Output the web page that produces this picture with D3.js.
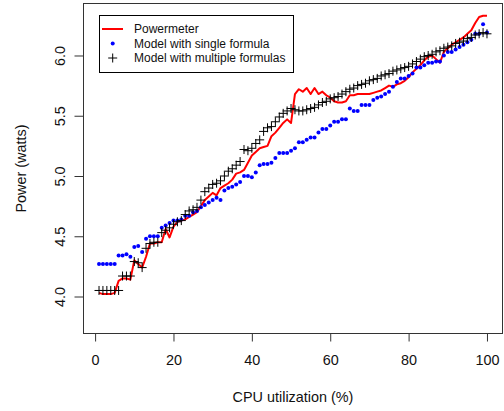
<!DOCTYPE html>
<html lang="en">
  <head>
    <meta charset="utf-8">
    <title>Power vs CPU utilization</title>
    <style>
      body { margin: 0; background: #fff; }
      text { font-family: "Liberation Sans", Arial, sans-serif; }
    </style>
  </head>
  <body>
    <svg id="chart"></svg>

    <script src="https://d3js.org/d3.v7.min.js"></script>

    <script type="text/javascript">
      // cpu utilization, 1..100
      const utilization = d3.range(1, 101);

      const powermeter = [
        4.03, 4.02, 4.02, 4.02, 4.03, 4.13, 4.15, 4.15, 4.14, 4.30,
        4.27, 4.24, 4.33, 4.44, 4.44, 4.45, 4.45, 4.56, 4.49, 4.58,
        4.62, 4.63, 4.64, 4.66, 4.68, 4.70, 4.75, 4.80, 4.83, 4.86,
        4.84, 4.90, 4.92, 4.94, 4.97, 5.02, 5.03, 5.05, 5.11, 5.17,
        5.20, 5.23, 5.24, 5.25, 5.33, 5.36, 5.40, 5.44, 5.47, 5.44,
        5.68, 5.72, 5.70, 5.73, 5.68, 5.73, 5.68, 5.70, 5.67, 5.65,
        5.62, 5.61, 5.61, 5.62, 5.67, 5.67, 5.68, 5.68, 5.68, 5.68,
        5.69, 5.70, 5.71, 5.73, 5.75, 5.74, 5.76, 5.77, 5.79, 5.82,
        5.86, 5.89, 5.92, 5.96, 5.99, 6.00, 5.97, 5.94, 6.03, 6.06,
        6.09, 6.11, 6.13, 6.15, 6.18, 6.21, 6.27, 6.32, 6.33, 6.33
      ];

      const singleFormula = [
        4.27, 4.27, 4.27, 4.27, 4.27, 4.34, 4.34, 4.35, 4.33, 4.41,
        4.42, 4.37, 4.48, 4.50, 4.50, 4.50, 4.57, 4.59, 4.61, 4.63,
        4.63, 4.64, 4.67, 4.67, 4.70, 4.71, 4.74, 4.76, 4.78, 4.80,
        4.82, 4.80, 4.88, 4.90, 4.91, 4.93, 4.95, 5.00, 5.00, 4.99,
        5.03, 5.09, 5.10, 5.10, 5.11, 5.15, 5.19, 5.19, 5.19, 5.21,
        5.23, 5.28, 5.28, 5.30, 5.32, 5.32, 5.36, 5.39, 5.39, 5.42,
        5.45, 5.45, 5.47, 5.47, 5.56, 5.54, 5.54, 5.59, 5.59, 5.59,
        5.63, 5.65, 5.66, 5.68, 5.70, 5.74, 5.78, 5.81, 5.81, 5.83,
        5.85, 5.90, 5.90, 5.92, 5.94, 5.94, 5.95, 5.95, 6.00, 6.03,
        6.03, 6.05, 6.07, 6.09, 6.11, 6.13, 6.18, 6.18, 6.26, 6.19
      ];

      const multipleFormulas = [
        4.05, 4.05, 4.05, 4.05, 4.05, 4.05, 4.17, 4.17, 4.17, 4.29,
        4.28, 4.24, 4.40, 4.44, 4.45, 4.45, 4.53, 4.55, 4.57, 4.60,
        4.62, 4.63, 4.68, 4.71, 4.72, 4.74, 4.80, 4.87, 4.90, 4.93,
        4.94, 4.96, 5.00, 5.04, 5.06, 5.09, 5.12, 5.22, 5.21, 5.23,
        5.27, 5.30, 5.37, 5.40, 5.41, 5.45, 5.49, 5.52, 5.54, 5.56,
        5.55, 5.54, 5.54, 5.55, 5.56, 5.57, 5.59, 5.61, 5.62, 5.64,
        5.65, 5.66, 5.68, 5.70, 5.72, 5.73, 5.75, 5.76, 5.77, 5.79,
        5.80, 5.81, 5.83, 5.84, 5.85, 5.87, 5.88, 5.89, 5.90, 5.91,
        5.93, 5.95, 5.97, 5.99, 6.00, 6.01, 6.03, 6.04, 6.06, 6.07,
        6.08, 6.10, 6.11, 6.12, 6.14, 6.15, 6.17, 6.18, 6.19, 6.18
      ];

      const xTicks = [0, 20, 40, 60, 80, 100];
      const yTicks = [4.0, 4.5, 5.0, 5.5, 6.0];
      const legendLabels = ['Powermeter', 'Model with single formula', 'Model with multiple formulas'];

      const width = 504, height = 411;
      const plotLeft = 83.5, plotRight = 502.5, plotTop = 3.5, plotBottom = 333.5;
      const labelSize = 14.4;

      const svg = d3.select('#chart')
        .attr('width', width)
        .attr('height', height);

      // R style: 4% padding on both ends of the data range
      const x = d3.scaleLinear().domain([-2.96, 103.96]).range([plotLeft, plotRight]);
      const y = d3.scaleLinear().domain([3.693, 6.4315]).range([plotBottom, plotTop]);

      // x axis
      const xAxis = svg.append('g')
        .attr('transform', `translate(0,${plotBottom})`)
        .call(d3.axisBottom(x).tickValues(xTicks).tickSize(8).tickPadding(13.5).tickFormat(d3.format('d')));
      xAxis.select('.domain').remove();
      xAxis.selectAll('line').attr('stroke', '#333');
      xAxis.selectAll('text').attr('font-size', labelSize).attr('fill', '#111')
        .style('font-family', '"Liberation Sans", Arial, sans-serif');

      // y axis, labels turned like R (las = 0)
      const yAxis = svg.append('g')
        .attr('transform', `translate(${plotLeft},0)`)
        .call(d3.axisLeft(y).tickValues(yTicks).tickSize(9).tickFormat(d3.format('.1f')));
      yAxis.select('.domain').remove();
      yAxis.selectAll('line').attr('stroke', '#333');
      yAxis.selectAll('text')
        .attr('x', null).attr('dy', null)
        .attr('text-anchor', 'middle')
        .attr('transform', 'translate(-18.3,0) rotate(-90)')
        .attr('font-size', labelSize).attr('fill', '#111')
        .style('font-family', '"Liberation Sans", Arial, sans-serif');

      // titles
      svg.append('text')
        .attr('x', (plotLeft + plotRight) / 2)
        .attr('y', 402)
        .attr('text-anchor', 'middle')
        .attr('font-size', labelSize)
        .attr('fill', '#111')
        .text('CPU utilization (%)');

      svg.append('text')
        .attr('transform', `translate(25.5,${(plotTop + plotBottom) / 2}) rotate(-90)`)
        .attr('text-anchor', 'middle')
        .attr('font-size', labelSize)
        .attr('fill', '#111')
        .text('Power (watts)');

      // powermeter line
      const line = d3.line()
        .x((d, i) => x(utilization[i]))
        .y(d => y(d));

      svg.append('path')
        .datum(powermeter)
        .attr('d', line)
        .attr('fill', 'none')
        .attr('stroke', '#ff0000')
        .attr('stroke-width', 2)
        .attr('stroke-linejoin', 'round');

      // single formula points
      svg.append('g')
        .selectAll('circle')
        .data(singleFormula)
        .join('circle')
        .attr('cx', (d, i) => x(utilization[i]))
        .attr('cy', d => y(d))
        .attr('r', 2)
        .attr('fill', '#0000ff');

      // multiple formulas points
      const plus = 'M-4.5,0H4.5M0,-4.5V4.5';
      svg.append('g')
        .selectAll('path')
        .data(multipleFormulas)
        .join('path')
        .attr('transform', (d, i) => `translate(${x(utilization[i])},${y(d)})`)
        .attr('d', plus)
        .attr('stroke', '#000')
        .attr('stroke-width', 1)
        .attr('fill', 'none');

      // plot box
      svg.append('rect')
        .attr('x', plotLeft).attr('y', plotTop)
        .attr('width', plotRight - plotLeft).attr('height', plotBottom - plotTop)
        .attr('fill', 'none')
        .attr('stroke', '#333');

      // legend
      const legend = svg.append('g');
      legend.append('rect')
        .attr('x', 99.5).attr('y', 15.5)
        .attr('width', 194).attr('height', 57)
        .attr('fill', '#fff')
        .attr('stroke', '#000');

      const rowY = i => 29 + i * 14.5;

      legend.append('line')
        .attr('x1', 102).attr('x2', 123)
        .attr('y1', rowY(0)).attr('y2', rowY(0))
        .attr('stroke', '#ff0000').attr('stroke-width', 2);

      legend.append('circle')
        .attr('cx', 112.7).attr('cy', rowY(1))
        .attr('r', 2).attr('fill', '#0000ff');

      legend.append('path')
        .attr('transform', `translate(112.7,${rowY(2)})`)
        .attr('d', plus)
        .attr('stroke', '#000').attr('fill', 'none');

      legend.selectAll('text.lab')
        .data(legendLabels)
        .join('text')
        .attr('class', 'lab')
        .attr('x', 134)
        .attr('y', (d, i) => rowY(i) + 4.3)
        .attr('font-size', 12)
        .attr('fill', '#111')
        .text(d => d);
    </script>
  </body>
</html>
